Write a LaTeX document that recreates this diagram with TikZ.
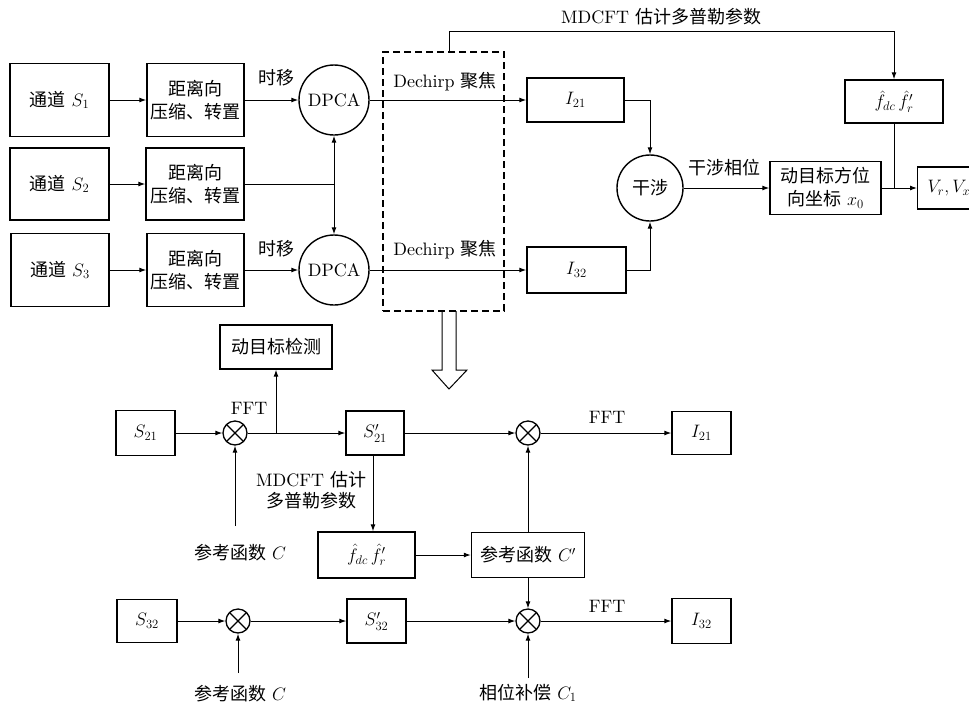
\RequirePackage{fix-cm}
\documentclass[tikz,border=0pt]{standalone}
\usepackage{fontspec}
\setmainfont{lmroman10-regular.otf}[ItalicFont=lmroman10-italic.otf,BoldFont=lmroman10-bold.otf]
\newfontfamily\cjk{Noto Sans CJK SC}
\usetikzlibrary{arrows.meta}
\newcommand{\zh}[1]{{\cjk #1}}
\begin{document}
\begin{tikzpicture}[x=1pt,y=-1pt,
  font=\fontsize{18}{23}\selectfont,
  bx/.style={draw,line width=1.4pt,inner sep=0pt,align=center},
  circ/.style={draw,circle,line width=1.4pt,inner sep=0pt},
  ox/.style={draw,circle,line width=1.3pt,minimum size=24pt,inner sep=0pt,
    path picture={\draw[line width=1.3pt]
      (path picture bounding box.north west)--(path picture bounding box.south east)
      (path picture bounding box.north east)--(path picture bounding box.south west);}},
  ar/.style={-{Latex[length=7pt,width=5pt]},line width=1pt},
  ln/.style={line width=1pt},
  lbl/.style={inner sep=0pt,align=center}]
\useasboundingbox (0,0) rectangle (969,705);
\clip (0,0) rectangle (969,705);

% ---------- top part ----------
\node[bx,minimum width=99,minimum height=73] (c1) at (59.5,100) {\zh{通道} $S_1$};
\node[bx,minimum width=99,minimum height=72] (c2) at (59.5,184) {\zh{通道} $S_2$};
\node[bx,minimum width=98,minimum height=73] (c3) at (60,270) {\zh{通道} $S_3$};
\node[bx,minimum width=97,minimum height=73] (r1) at (195.5,100) {\zh{距离向}\\\zh{压缩、转置}};
\node[bx,minimum width=98,minimum height=72] (r2) at (195,184) {\zh{距离向}\\\zh{压缩、转置}};
\node[bx,minimum width=97,minimum height=73] (r3) at (195.5,270) {\zh{距离向}\\\zh{压缩、转置}};
\node[circ,minimum size=70] (d1) at (334,100) {DPCA};
\node[circ,minimum size=70] (d2) at (334,270) {DPCA};
\node[draw,line width=1.3pt,dash pattern=on 7pt off 4pt,minimum width=121,minimum height=259,inner sep=0pt] (dash) at (443.5,181.5) {};
\node[bx,minimum width=97,minimum height=44] (i21) at (575.5,100) {$I_{21}$};
\node[bx,minimum width=99,minimum height=46] (i32) at (576.5,270) {$I_{32}$};
\node[circ,minimum size=66] (gan) at (650,188) {\zh{干涉}};
\node[bx,minimum width=111,minimum height=53] (mov) at (825.5,188) {\zh{动目标方位}\\\zh{向坐标} $x_0$};
\node[bx,minimum width=98,minimum height=43] (ft) at (894,101.5) {$\hat{f}_{dc}\,\hat{f}_r'$};
\node[bx,anchor=west,minimum width=120,minimum height=42,inner xsep=9pt,text width=100pt,align=left] (V) at (917,188) {$V_r,V_x$};

\node[lbl] (t1) at (276,78) {\zh{时移}};
\node[lbl] (t2) at (276,249) {\zh{时移}};
\node[lbl] (dc1) at (445,82) {Dechirp \zh{聚焦}};
\node[lbl] (dc2) at (445,250) {Dechirp \zh{聚焦}};
\node[lbl] (gxw) at (724,168) {\zh{干涉相位}};
\node[lbl] (mdt) at (661,17) {MDCFT \zh{估计多普勒参数}};

\draw[ar] (c1) -- (r1);
\draw[ar] (c2) -- (r2);
\draw[ar] (c3) -- (r3);
\draw[ar] (r1) -- (d1);
\draw[ar] (r3) -- (d2);
\draw[ln] (r2.east) -- (r2.east -| d1.south);
\draw[{Latex[length=7pt,width=5pt]}-{Latex[length=7pt,width=5pt]},line width=1pt] (d1.south) -- (d2.north);
\draw[ar] (d1) -- (i21);
\draw[ar] (d2) -- (i32);
\draw[ar] (i21.east) -| (gan.north);
\draw[ar] (i32.east) -| (gan.south);
\draw[ar] (gan) -- (mov);
\draw[ar] (mov) -- (V);
\coordinate (jn) at (ft.south |- mov.east);
\draw[ln] (ft.south) -- (jn);
\coordinate (mt) at (449,31.5);
\draw[ar] (mt |- dash.north) -- (mt) -| (ft.north);

% hollow arrow
\draw[line width=1pt,line join=miter] (442,311) -- (442,370) -- (432,370) -- (449,389) -- (467,370) -- (456,370) -- (456,311);

% ---------- bottom part ----------
\node[bx,minimum width=112,minimum height=44] (det) at (276,347) {\zh{动目标检测}};
\node[bx,minimum width=59,minimum height=45] (s21) at (145.5,433) {$S_{21}$};
\node[ox] (o1) at (235,433) {};
\node[bx,minimum width=58,minimum height=44] (s21p) at (375,433) {$S_{21}'$};
\node[ox] (o2) at (528,433) {};
\node[bx,minimum width=59,minimum height=43] (i21b) at (701.5,433) {$I_{21}$};
\node[bx,minimum width=97,minimum height=46] (fb) at (366.5,555) {$\hat{f}_{dc}\,\hat{f}_r'$};
\node[bx,minimum width=113,minimum height=45] (cp) at (528,555) {\zh{参考函数} $C'$};
\node[bx,minimum width=60,minimum height=43] (s32) at (147,621) {$S_{32}$};
\node[ox] (o3) at (238,621) {};
\node[bx,minimum width=59,minimum height=44] (s32p) at (376.5,621) {$S_{32}'$};
\node[ox] (o4) at (528,621) {};
\node[bx,minimum width=59,minimum height=45] (i32b) at (701.5,621) {$I_{32}$};

\node[lbl] (fft1) at (249,408) {FFT};
\node[lbl] (fft2) at (607,417) {FFT};
\node[lbl] (fft3) at (607,606) {FFT};
\node[lbl] (mdb) at (311,490) {MDCFT \zh{估计}\\[-2pt]\zh{多普勒参数}};
\node[lbl] (rc1) at (240,553) {\zh{参考函数} $C$};
\node[lbl] (rc2) at (240,694) {\zh{参考函数} $C$};
\node[lbl] (pc) at (528,693) {\zh{相位补偿} $C_1$};

\coordinate (a1) at (235,526);
\coordinate (a2) at (238,673);
\coordinate (a3) at (528,678);

\draw[ar] (s21) -- (o1);
\draw[ar] (o1) -- (s21p);
\draw[ar] (o1.east -| det.south) -- (det.south);
\draw[ar] (a1) -- (o1.south);
\draw[ar] (s21p) -- (o2);
\draw[ar] (o2) -- (i21b);
\draw[ar] ([xshift=-2pt]s21p.south) -- ([xshift=-2pt]s21p.south |- fb.north);
\draw[ar] (fb) -- (cp);
\draw[ar] (cp.north) -- (o2.south);
\draw[ar] (cp.south) -- (o4.north);
\draw[ar] (s32) -- (o3);
\draw[ar] (o3) -- (s32p);
\draw[ar] (a2) -- (o3.south);
\draw[ar] (s32p) -- (o4);
\draw[ar] (o4) -- (i32b);
\draw[ar] (a3) -- (o4.south);
\end{tikzpicture}
\end{document}
